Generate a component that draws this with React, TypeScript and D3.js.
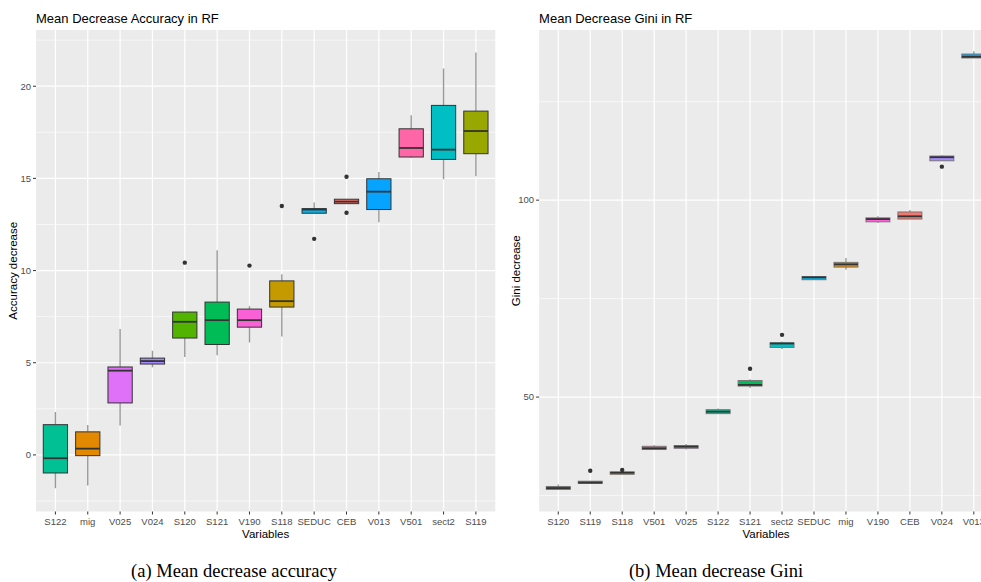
import React from "react";
import * as d3 from "d3";

// ---- Mean Decrease Accuracy (left) ----
const accVars = ["S122", "mig", "V025", "V024", "S120", "S121", "V190", "S118", "SEDUC", "CEB", "V013", "V501", "sect2", "S119"];
const accLow = [-1.81, -1.66, 1.59, 4.75, 5.31, 5.4, 6.1, 6.43, 13.11, 13.63, 12.62, 16.12, 14.95, 15.11];
const accQ1 = [-0.98, -0.04, 2.82, 4.93, 6.34, 5.99, 6.93, 8.02, 13.11, 13.63, 13.31, 16.16, 16.03, 16.34];
const accMed = [-0.18, 0.34, 4.57, 5.09, 7.22, 7.31, 7.31, 8.34, 13.31, 13.74, 14.28, 16.65, 16.56, 17.57];
const accQ3 = [1.64, 1.25, 4.77, 5.25, 7.75, 8.29, 7.91, 9.44, 13.36, 13.87, 14.98, 17.69, 18.96, 18.65];
const accHigh = [2.33, 1.62, 6.83, 5.65, 7.75, 11.1, 8.07, 9.8, 13.69, 13.87, 15.35, 18.43, 20.96, 21.83];
const accOutliers: [string, number][] = [
  ["S120", 10.43], ["V190", 10.27], ["S118", 13.5], ["SEDUC", 11.72], ["CEB", 15.09], ["CEB", 13.14],
];

// ---- Mean Decrease Gini (right) ----
const giniVars = ["S120", "S119", "S118", "V501", "V025", "S122", "S121", "sect2", "SEDUC", "mig", "V190", "CEB", "V024", "V013"];
const giniLow = [26.5, 28.0, 30.4, 36.7, 36.7, 45.8, 52.3, 62.2, 79.7, 82.3, 94.2, 95.2, 110.0, 136.1];
const giniQ1 = [26.55, 28.06, 30.4, 36.7, 37.0, 45.8, 52.8, 62.6, 79.8, 83.0, 94.5, 95.2, 110.0, 136.1];
const giniMed = [26.9, 28.3, 30.8, 37.0, 37.4, 46.3, 53.1, 63.6, 80.4, 83.7, 95.2, 95.9, 110.9, 136.4];
const giniQ3 = [27.3, 28.64, 31.0, 37.5, 37.7, 46.8, 54.2, 63.8, 80.6, 84.2, 95.5, 97.0, 111.2, 137.1];
const giniHigh = [27.8, 28.64, 31.0, 37.8, 38.1, 47.1, 54.5, 64.1, 80.6, 85.3, 95.9, 97.5, 111.4, 137.8];
const giniOutliers: [string, number][] = [
  ["S119", 31.3], ["S118", 31.5], ["S121", 57.2], ["sect2", 65.8], ["V024", 108.5],
];

// ggplot hue palette over alphabetically sorted factor levels
const levels = ["CEB", "mig", "S118", "S119", "S120", "S121", "S122", "sect2", "SEDUC", "V013", "V024", "V025", "V190", "V501"];
const hues = ["#F8766D", "#E38900", "#C49A00", "#99A800", "#53B400", "#00BC56", "#00C094", "#00BFC4", "#00B6EB", "#06A4FF", "#A58AFF", "#DF70F8", "#FB61D7", "#FF66A8"];
const fill = d3.scaleOrdinal<string, string>().domain(levels).range(hues);

const accMajor = [0, 5, 10, 15, 20];
const accMinor = [-2.5, 2.5, 7.5, 12.5, 17.5, 22.5];
const giniMajor = [50, 100];
const giniMinor = [25, 75, 125];

const sans = "'Liberation Sans', Arial, sans-serif";

type PanelProps = {
  title: string;
  yTitle: string;
  vars: string[];
  low: number[];
  q1: number[];
  med: number[];
  q3: number[];
  high: number[];
  outliers: [string, number][];
  major: number[];
  minor: number[];
  yDomain: [number, number];
  left: number;
  right: number;
  boxStroke: string;
};

function Panel(p: PanelProps) {
  const top = 30;
  const bottom = 511.5;
  const x = d3.scalePoint<string>().domain(p.vars).range([p.left, p.right]).padding(0.6);
  const y = d3.scaleLinear().domain(p.yDomain).range([bottom, top]);
  const bw = x.step() * 0.75;
  const cx = (p.left + p.right) / 2;
  return (
    <g>
      <text x={p.left} y={22.5} fontFamily={sans} fontSize={13} fill="#000">{p.title}</text>
      <rect x={p.left} y={top} width={p.right - p.left} height={bottom - top} fill="#EBEBEB" />
      {p.minor.map((v) => (
        <line key={"mn" + v} x1={p.left} x2={p.right} y1={y(v)} y2={y(v)} stroke="#fff" strokeWidth={0.6} />
      ))}
      {p.major.map((v) => (
        <line key={"mj" + v} x1={p.left} x2={p.right} y1={y(v)} y2={y(v)} stroke="#fff" strokeWidth={1.2} />
      ))}
      {p.vars.map((v) => (
        <line key={"vx" + v} x1={x(v)} x2={x(v)} y1={top} y2={bottom} stroke="#fff" strokeWidth={1.2} />
      ))}
      {p.vars.map((v, i) => {
        const xc = x(v)!;
        return (
          <g key={"b" + v}>
            <line x1={xc} x2={xc} y1={y(p.high[i])} y2={y(p.q3[i])} stroke="#999" strokeWidth={1.4} />
            <line x1={xc} x2={xc} y1={y(p.q1[i])} y2={y(p.low[i])} stroke="#999" strokeWidth={1.4} />
            <rect x={xc - bw / 2} y={y(p.q3[i])} width={bw} height={Math.max(1, y(p.q1[i]) - y(p.q3[i]))}
              fill={fill(v)} stroke={p.boxStroke} strokeWidth={1} />
            <line x1={xc - bw / 2} x2={xc + bw / 2} y1={y(p.med[i])} y2={y(p.med[i])} stroke="#333" strokeWidth={1.8} />
          </g>
        );
      })}
      {p.outliers.map(([v, val], i) => (
        <circle key={"o" + i} cx={x(v)} cy={y(val)} r={2.2} fill="#333" />
      ))}
      {p.major.map((v) => (
        <g key={"yt" + v}>
          <line x1={p.left - 3} x2={p.left} y1={y(v)} y2={y(v)} stroke="#333" strokeWidth={1} />
          <text x={p.left - 5} y={y(v)} dy="0.35em" textAnchor="end" fontFamily={sans} fontSize={9.5} fill="#4D4D4D">{v}</text>
        </g>
      ))}
      {p.vars.map((v) => (
        <g key={"xt" + v}>
          <line x1={x(v)} x2={x(v)} y1={bottom} y2={bottom + 3} stroke="#333" strokeWidth={1} />
          <text x={x(v)} y={525} textAnchor="middle" fontFamily={sans} fontSize={9.5} fill="#4D4D4D">{v}</text>
        </g>
      ))}
      <text x={cx} y={538} textAnchor="middle" fontFamily={sans} fontSize={11.5} fill="#000">Variables</text>
      <text transform={`translate(${p.left - 19},${(top + bottom) / 2}) rotate(-90)`} textAnchor="middle"
        fontFamily={sans} fontSize={11.5} fill="#000">{p.yTitle}</text>
    </g>
  );
}

export default function App() {
  return (
    <svg width={981} height={582} style={{ position: "absolute", left: 0, top: 0, background: "#fff" }}>
      <Panel title="Mean Decrease Accuracy in RF" yTitle="Accuracy decrease" vars={accVars}
        low={accLow} q1={accQ1} med={accMed} q3={accQ3} high={accHigh} outliers={accOutliers}
        major={accMajor} minor={accMinor} yDomain={[-3.07, 23.05]} left={36} right={495.3} boxStroke="#333" />
      <Panel title="Mean Decrease Gini in RF" yTitle="Gini decrease" vars={giniVars}
        low={giniLow} q1={giniQ1} med={giniMed} q3={giniQ3} high={giniHigh} outliers={giniOutliers}
        major={giniMajor} minor={giniMinor} yDomain={[20.95, 143.2]} left={539.1} right={993} boxStroke="#777" />
      <text x={234} y={577} textAnchor="middle" fontFamily="'Liberation Serif', 'Times New Roman', serif" fontSize={18.5} fill="#000">(a) Mean decrease accuracy</text>
      <text x={716} y={577} textAnchor="middle" fontFamily="'Liberation Serif', 'Times New Roman', serif" fontSize={18.5} fill="#000">(b) Mean decrease Gini</text>
    </svg>
  );
}
